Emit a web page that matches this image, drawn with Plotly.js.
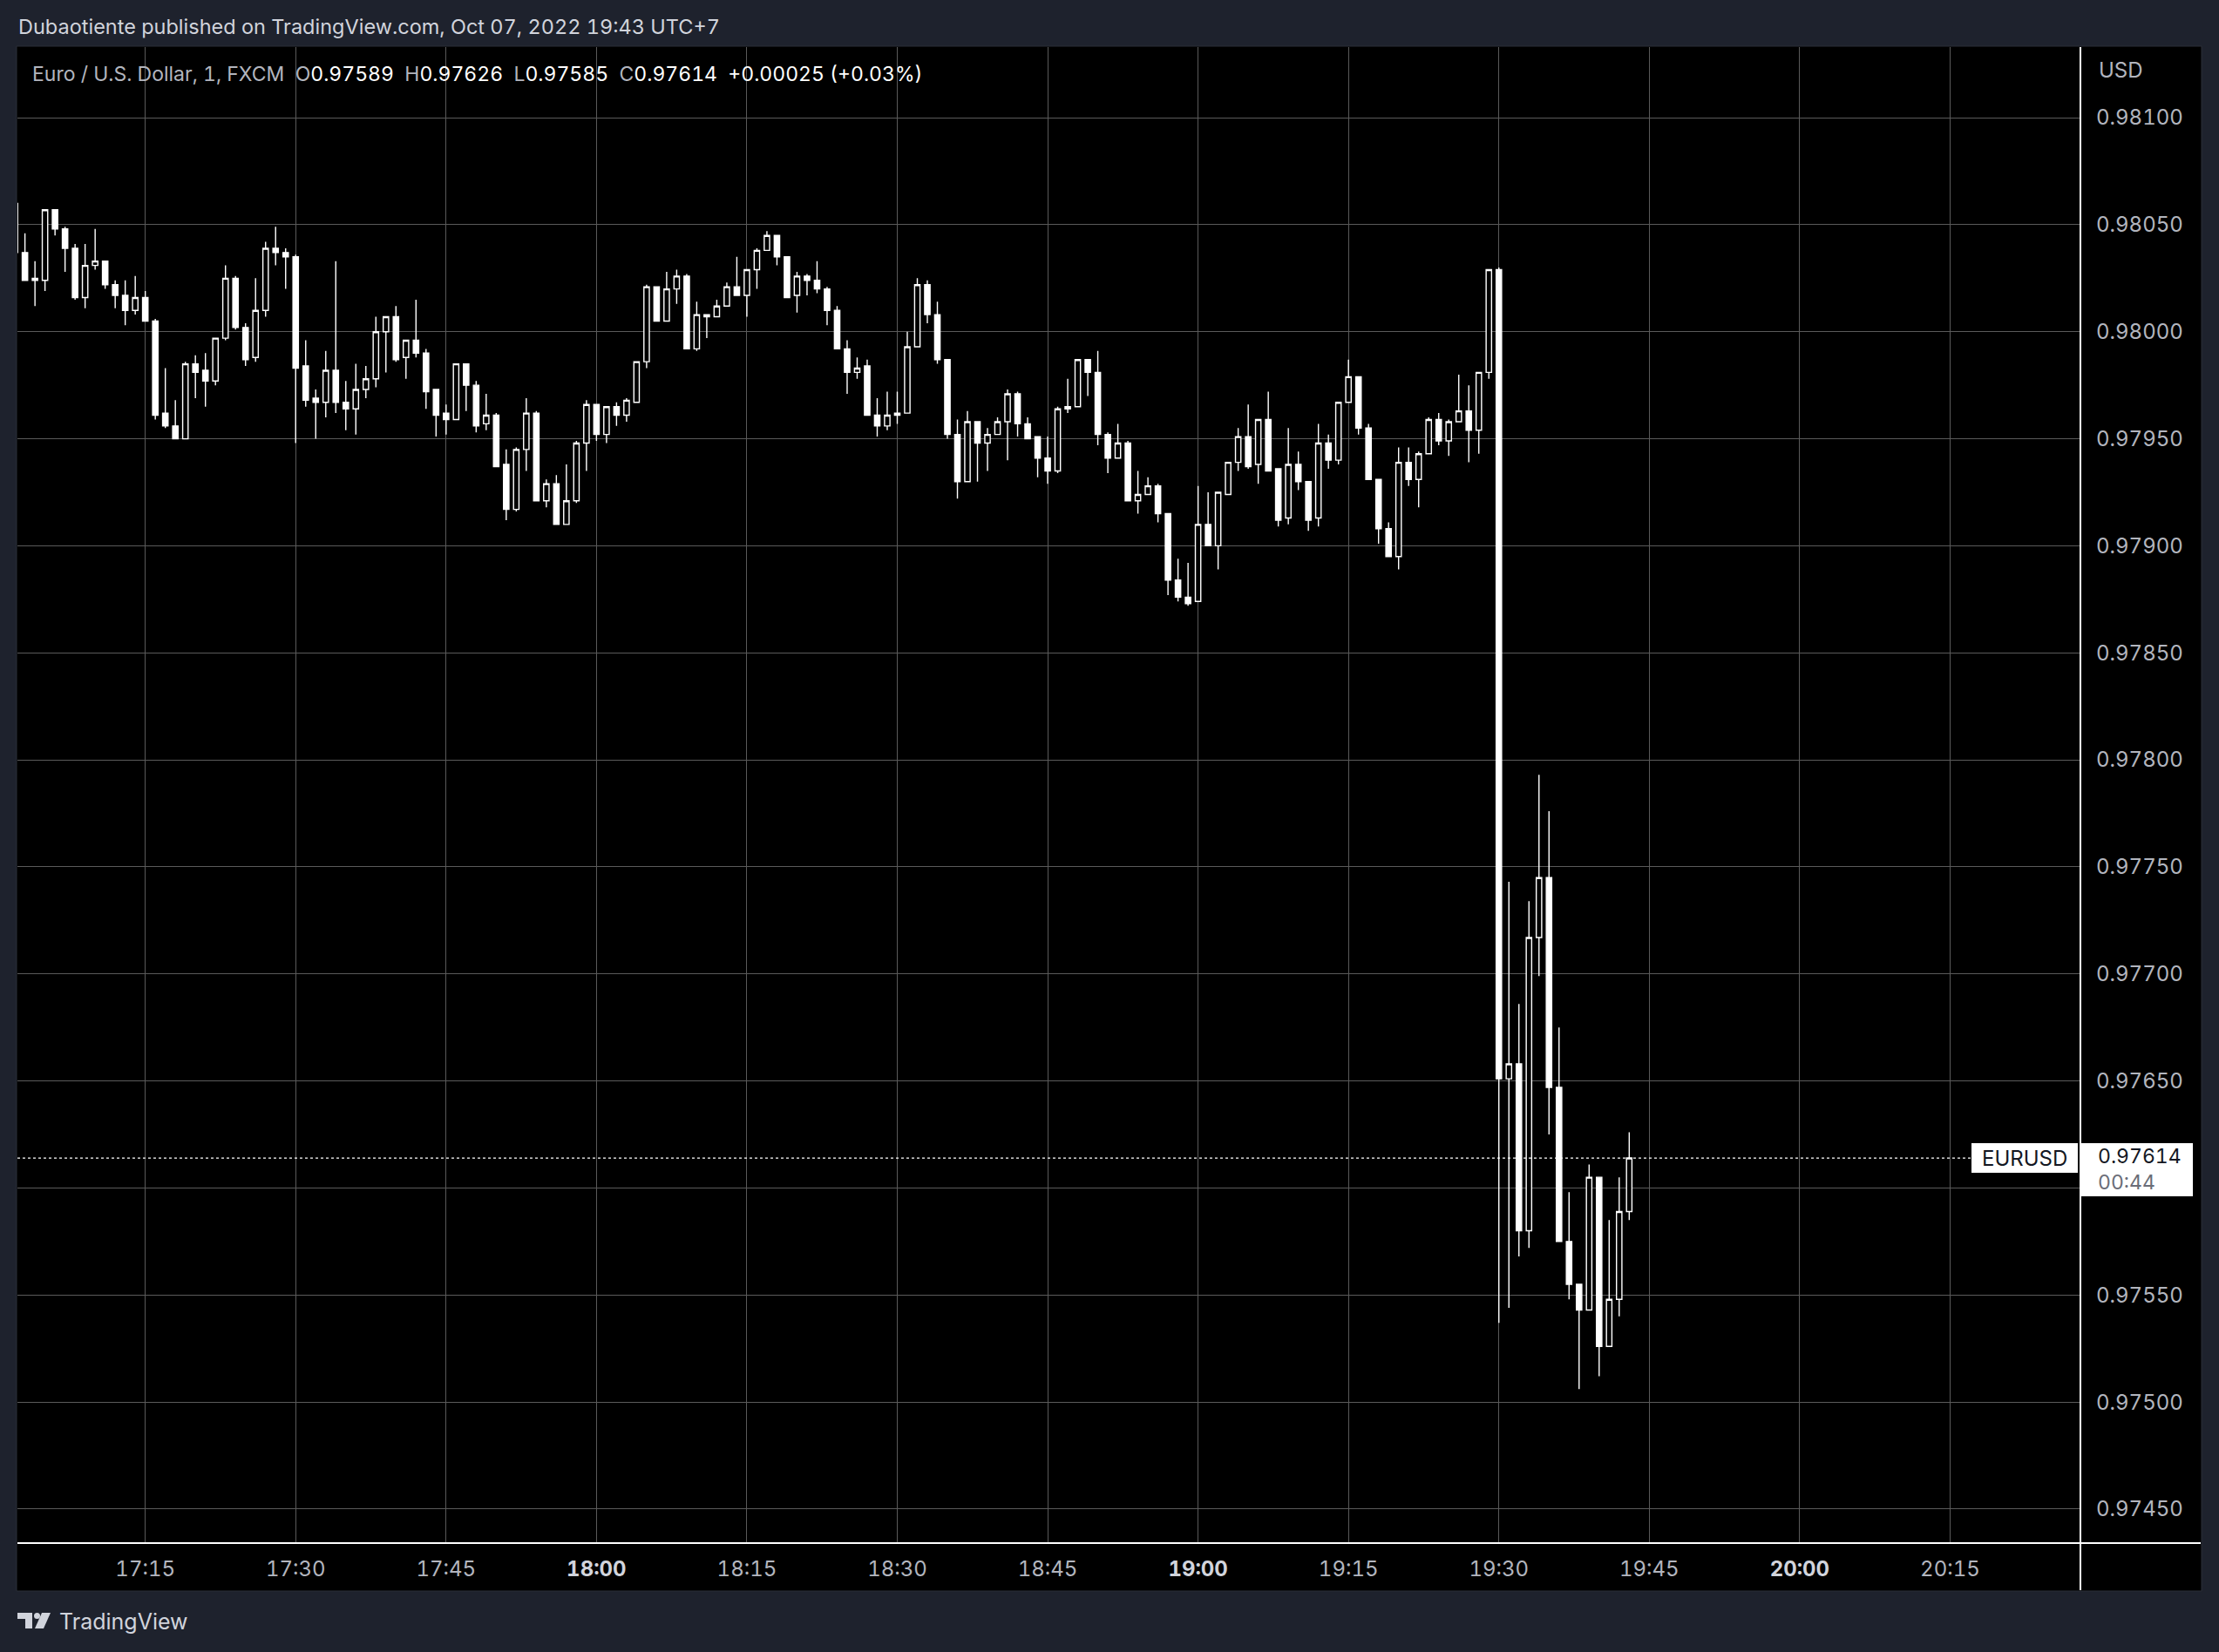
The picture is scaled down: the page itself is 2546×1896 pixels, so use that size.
<!DOCTYPE html>
<html><head><meta charset="utf-8">
<script src="https://cdn.plot.ly/plotly-3.0.1.min.js"></script>
<style>html,body{margin:0;padding:0;background:#1e222d;overflow:hidden}#chart{width:2546px;height:1896px}
text{font-feature-settings:"tnum" 1;}</style>
</head><body><div id="chart"></div>
<script>
const day = '2022-10-07';
const times = [
'17:02','17:03','17:04','17:05','17:06','17:07','17:08','17:09','17:10','17:11',
'17:12','17:13','17:14','17:15','17:16','17:17','17:18','17:19','17:20','17:21',
'17:22','17:23','17:24','17:25','17:26','17:27','17:28','17:29','17:30','17:31',
'17:32','17:33','17:34','17:35','17:36','17:37','17:38','17:39','17:40','17:41',
'17:42','17:43','17:44','17:45','17:46','17:47','17:48','17:49','17:50','17:51',
'17:52','17:53','17:54','17:55','17:56','17:57','17:58','17:59','18:00','18:01',
'18:02','18:03','18:04','18:05','18:06','18:07','18:08','18:09','18:10','18:11',
'18:12','18:13','18:14','18:15','18:16','18:17','18:18','18:19','18:20','18:21',
'18:22','18:23','18:24','18:25','18:26','18:27','18:28','18:29','18:30','18:31',
'18:32','18:33','18:34','18:35','18:36','18:37','18:38','18:39','18:40','18:41',
'18:42','18:43','18:44','18:45','18:46','18:47','18:48','18:49','18:50','18:51',
'18:52','18:53','18:54','18:55','18:56','18:57','18:58','18:59','19:00','19:01',
'19:02','19:03','19:04','19:05','19:06','19:07','19:08','19:09','19:10','19:11',
'19:12','19:13','19:14','19:15','19:16','19:17','19:18','19:19','19:20','19:21',
'19:22','19:23','19:24','19:25','19:26','19:27','19:28','19:29','19:30','19:31',
'19:32','19:33','19:34','19:35','19:36','19:37','19:38','19:39','19:40','19:41',
'19:42','19:43'];
const open = [
0.98037,0.98037,0.98024,0.98024,0.98057,0.98048,0.98039,0.98016,0.98031,0.98033,
0.98022,0.98017,0.98010,0.98016,0.98005,0.97962,0.97956,0.97950,0.97985,0.97982,
0.97977,0.97997,0.98025,0.98002,0.97988,0.98010,0.98039,0.98037,0.98035,0.97984,
0.97969,0.97967,0.97982,0.97967,0.97964,0.97973,0.97978,0.98000,0.98007,0.97988,
0.97996,0.97990,0.97973,0.97962,0.97959,0.97985,0.97975,0.97957,0.97961,0.97938,
0.97917,0.97945,0.97962,0.97921,0.97929,0.97910,0.97921,0.97948,0.97966,0.97952,
0.97965,0.97961,0.97967,0.97986,0.98021,0.98005,0.98020,0.98026,0.97992,0.98008,
0.98007,0.98012,0.98021,0.98017,0.98029,0.98038,0.98045,0.98035,0.98017,0.98026,
0.98024,0.98020,0.98010,0.97992,0.97981,0.97984,0.97961,0.97956,0.97961,0.97962,
0.97993,0.98022,0.98008,0.97987,0.97952,0.97930,0.97958,0.97948,0.97952,0.97958,
0.97971,0.97957,0.97951,0.97941,0.97935,0.97965,0.97965,0.97987,0.97981,0.97952,
0.97941,0.97948,0.97921,0.97924,0.97928,0.97915,0.97884,0.97876,0.97874,0.97910,
0.97900,0.97924,0.97939,0.97951,0.97938,0.97959,0.97936,0.97913,0.97938,0.97930,
0.97913,0.97948,0.97940,0.97967,0.97979,0.97955,0.97931,0.97908,0.97895,0.97939,
0.97931,0.97943,0.97959,0.97949,0.97958,0.97963,0.97954,0.97981,0.98029,0.97651,
0.97658,0.97580,0.97717,0.97745,0.97647,0.97575,0.97555,0.97543,0.97605,0.97526,
0.97548,0.97589];
const high = [
0.98064,0.98046,0.98033,0.98057,0.98057,0.98049,0.98041,0.98041,0.98048,0.98033,
0.98024,0.98024,0.98026,0.98019,0.98006,0.97983,0.97968,0.97986,0.97989,0.97990,
0.97997,0.98031,0.98026,0.98004,0.98025,0.98042,0.98049,0.98039,0.98036,0.97996,
0.97973,0.97991,0.98033,0.97977,0.97985,0.97984,0.98007,0.98007,0.98012,0.97996,
0.98015,0.97992,0.97973,0.97966,0.97985,0.97985,0.97977,0.97971,0.97962,0.97945,
0.97946,0.97969,0.97963,0.97931,0.97933,0.97938,0.97949,0.97968,0.97966,0.97965,
0.97967,0.97969,0.97986,0.98022,0.98021,0.98028,0.98029,0.98027,0.98014,0.98008,
0.98015,0.98023,0.98035,0.98029,0.98039,0.98047,0.98045,0.98035,0.98028,0.98027,
0.98033,0.98021,0.98012,0.97996,0.97988,0.97987,0.97969,0.97972,0.97972,0.98000,
0.98025,0.98024,0.98014,0.97987,0.97959,0.97963,0.97958,0.97955,0.97960,0.97973,
0.97972,0.97960,0.97951,0.97951,0.97965,0.97978,0.97987,0.97987,0.97991,0.97953,
0.97957,0.97949,0.97935,0.97932,0.97929,0.97915,0.97894,0.97892,0.97928,0.97925,
0.97925,0.97939,0.97955,0.97966,0.97959,0.97972,0.97936,0.97955,0.97944,0.97930,
0.97957,0.97952,0.97967,0.97987,0.97979,0.97957,0.97931,0.97911,0.97946,0.97946,
0.97944,0.97960,0.97962,0.97959,0.97980,0.97975,0.97981,0.98029,0.98030,0.97743,
0.97686,0.97734,0.97793,0.97776,0.97675,0.97598,0.97555,0.97611,0.97605,0.97585,
0.97605,0.97626];
const low = [
0.98035,0.98024,0.98012,0.98019,0.98045,0.98028,0.98015,0.98011,0.98029,0.98020,
0.98011,0.98003,0.98008,0.98005,0.97959,0.97955,0.97950,0.97950,0.97969,0.97965,
0.97975,0.97996,0.98001,0.97984,0.97986,0.98007,0.98031,0.98020,0.97948,0.97965,
0.97950,0.97960,0.97962,0.97954,0.97952,0.97969,0.97974,0.97981,0.97986,0.97978,
0.97988,0.97964,0.97951,0.97952,0.97959,0.97963,0.97953,0.97954,0.97937,0.97912,
0.97916,0.97935,0.97921,0.97918,0.97910,0.97910,0.97920,0.97935,0.97949,0.97948,
0.97956,0.97958,0.97967,0.97983,0.98005,0.98005,0.98013,0.97992,0.97991,0.97997,
0.98007,0.98012,0.98017,0.98007,0.98020,0.98038,0.98031,0.98016,0.98009,0.98017,
0.98018,0.98003,0.97992,0.97971,0.97978,0.97961,0.97951,0.97954,0.97957,0.97962,
0.97993,0.98004,0.97985,0.97950,0.97922,0.97930,0.97930,0.97935,0.97952,0.97940,
0.97951,0.97950,0.97932,0.97929,0.97934,0.97962,0.97965,0.97970,0.97947,0.97934,
0.97941,0.97921,0.97915,0.97924,0.97911,0.97877,0.97874,0.97872,0.97874,0.97900,
0.97889,0.97924,0.97935,0.97936,0.97929,0.97935,0.97909,0.97910,0.97926,0.97907,
0.97909,0.97936,0.97938,0.97967,0.97952,0.97931,0.97901,0.97895,0.97889,0.97928,
0.97918,0.97943,0.97947,0.97942,0.97958,0.97939,0.97943,0.97978,0.97537,0.97544,
0.97568,0.97572,0.97699,0.97625,0.97575,0.97548,0.97506,0.97543,0.97512,0.97526,
0.97540,0.97585];
const close = [
0.98060,0.98024,0.98025,0.98057,0.98048,0.98039,0.98016,0.98031,0.98033,0.98022,
0.98017,0.98010,0.98016,0.98005,0.97961,0.97956,0.97950,0.97985,0.97981,0.97977,
0.97997,0.98025,0.98002,0.97987,0.98010,0.98039,0.98037,0.98035,0.97983,0.97968,
0.97967,0.97982,0.97967,0.97964,0.97973,0.97978,0.98000,0.98007,0.97987,0.97996,
0.97990,0.97972,0.97961,0.97959,0.97985,0.97975,0.97956,0.97961,0.97937,0.97917,
0.97945,0.97962,0.97921,0.97929,0.97910,0.97921,0.97948,0.97966,0.97952,0.97965,
0.97961,0.97968,0.97986,0.98021,0.98005,0.98020,0.98026,0.97992,0.98008,0.98007,
0.98012,0.98021,0.98017,0.98029,0.98038,0.98045,0.98035,0.98016,0.98026,0.98024,
0.98020,0.98010,0.97992,0.97981,0.97983,0.97961,0.97956,0.97961,0.97962,0.97993,
0.98022,0.98008,0.97987,0.97952,0.97930,0.97958,0.97948,0.97952,0.97958,0.97971,
0.97957,0.97950,0.97941,0.97935,0.97964,0.97964,0.97987,0.97981,0.97952,0.97941,
0.97948,0.97921,0.97924,0.97928,0.97915,0.97884,0.97876,0.97873,0.97910,0.97900,
0.97925,0.97939,0.97951,0.97937,0.97959,0.97935,0.97912,0.97938,0.97930,0.97912,
0.97948,0.97940,0.97967,0.97979,0.97955,0.97931,0.97908,0.97895,0.97939,0.97931,
0.97943,0.97959,0.97949,0.97958,0.97963,0.97954,0.97981,0.98029,0.97651,0.97658,
0.97580,0.97717,0.97745,0.97647,0.97575,0.97555,0.97543,0.97605,0.97526,0.97548,
0.97589,0.97614];
const yTicks = [0.97450,0.97500,0.97550,0.97600,0.97650,0.97700,0.97750,0.97800,0.97850,0.97900,0.97950,0.98000,0.98050,0.98100];
const xTickTimes = ['17:15','17:30','17:45','18:00','18:15','18:30','18:45','19:00','19:15','19:30','19:45','20:00','20:15'];
const xTickBold = ['18:00','19:00','20:00'];
const headerText = 'Dubaotiente published on TradingView.com, Oct 07, 2022 19:43 UTC+7';
const symbolName = 'Euro / U.S. Dollar, 1, FXCM';
const ticker = 'EURUSD';
const currency = 'USD';
const countdown = '00:44';
const brand = 'TradingView';

// ---- layout geometry (pixels) ----
const W = 2546, H = 1896;
const L = 20, R = 2387, T = 54, B = 1771;
const YMIN = 0.974341, YMAX = 0.981330;
const px = x => (x - L) / (R - L);
const py = y => (B - y) / (B - T);
const yPix = v => T + (YMAX - v) / (YMAX - YMIN) * (B - T);
const FONT = 'Inter, Roboto, sans-serif';
const GRAY = '#b2b5be', LIGHT = '#d1d4dc';

const n = close.length;
const lastO = open[n-1], lastH = high[n-1], lastL = low[n-1], lastC = close[n-1];
const chg = lastC - close[n-2];
const pct = chg / close[n-2] * 100;
const sp = '\u00a0';
const lbl = s => '<span style="color:' + GRAY + '">' + s + '</span>';
const val = s => '<span style="color:#ffffff">' + s + '</span>';
const legendText = lbl(symbolName) + sp + sp +
  lbl('O') + val(lastO.toFixed(5)) + sp + sp + lbl('H') + val(lastH.toFixed(5)) + sp + sp +
  lbl('L') + val(lastL.toFixed(5)) + sp + sp + lbl('C') + val(lastC.toFixed(5)) + sp + sp +
  val((chg >= 0 ? '+' : '') + chg.toFixed(5) + ' (' + (pct >= 0 ? '+' : '') + pct.toFixed(2) + '%)');

// price label box (pixels) – axis labels that fall under it are covered in the original
const boxTop = yPix(lastC) - 17, boxBot = yPix(lastC) + 44;

const trace = {
  type: 'candlestick',
  x: times.map(t => day + ' ' + t),
  open: open, high: high, low: low, close: close,
  increasing: {line: {color: '#ffffff', width: 1.4}, fillcolor: '#000000'},
  decreasing: {line: {color: '#ffffff', width: 1.4}, fillcolor: '#ffffff'},
  whiskerwidth: 0,
  hoverinfo: 'skip',
  showlegend: false
};

function poly(pts) {
  return 'M' + pts.map(p => px(p[0]).toFixed(6) + ',' + py(p[1]).toFixed(6)).join(' L') + ' Z';
}

const shapes = [
  {type: 'rect', xref: 'paper', yref: 'paper', x0: px(19), x1: px(2526), y0: py(53), y1: py(1826),
   fillcolor: '#000000', line: {color: '#2a2e39', width: 1}, layer: 'below'},
  {type: 'line', xref: 'paper', yref: 'y', x0: 0, x1: px(2262), y0: lastC, y1: lastC,
   line: {color: '#ffffff', width: 1.3, dash: 'dot'}, layer: 'above'},
  {type: 'line', xref: 'paper', yref: 'paper', x0: px(2387), x1: px(2387), y0: py(54), y1: py(1825),
   line: {color: '#ffffff', width: 2}, layer: 'above'},
  {type: 'line', xref: 'paper', yref: 'paper', x0: px(20), x1: px(2525), y0: py(1771), y1: py(1771),
   line: {color: '#ffffff', width: 2}, layer: 'above'},
  {type: 'rect', xref: 'paper', yref: 'paper', x0: px(2262), x1: px(2384), y0: py(boxTop), y1: py(boxTop + 34),
   fillcolor: '#ffffff', line: {width: 0}, layer: 'above'},
  {type: 'rect', xref: 'paper', yref: 'paper', x0: px(2388), x1: px(2516), y0: py(boxTop), y1: py(boxBot),
   fillcolor: '#ffffff', line: {width: 0}, layer: 'above'},
  {type: 'path', xref: 'paper', yref: 'paper', layer: 'above', fillcolor: LIGHT, line: {width: 0},
   path: poly([[20,1851],[37,1851],[37,1869],[29,1869],[29,1858],[20,1858]])},
  {type: 'circle', xref: 'paper', yref: 'paper', layer: 'above', fillcolor: LIGHT, line: {width: 0},
   x0: px(39), x1: px(46), y0: py(1851), y1: py(1858)},
  {type: 'path', xref: 'paper', yref: 'paper', layer: 'above', fillcolor: LIGHT, line: {width: 0},
   path: poly([[48,1851],[58,1851],[50,1869],[40,1869]])}
];

const annotations = [
  {xref: 'paper', yref: 'paper', x: px(19), y: py(31), xanchor: 'left', yanchor: 'middle', showarrow: false,
   text: headerText, font: {family: FONT, size: 23.5, color: LIGHT}},
  {xref: 'paper', yref: 'paper', x: px(35), y: py(85), xanchor: 'left', yanchor: 'middle', showarrow: false,
   text: legendText, font: {family: FONT, size: 23, color: LIGHT}},
  {xref: 'paper', yref: 'paper', x: px(2406), y: py(81), xanchor: 'left', yanchor: 'middle', showarrow: false,
   text: currency, font: {family: FONT, size: 24, color: GRAY}},
  {xref: 'paper', yref: 'paper', x: px(2323), y: py(boxTop + 17), xanchor: 'center', yanchor: 'middle', showarrow: false,
   text: ticker, font: {family: FONT, size: 24, color: '#131722'}},
  {xref: 'paper', yref: 'paper', x: px(2405), y: py(boxTop + 15), xanchor: 'left', yanchor: 'middle', showarrow: false,
   text: lastC.toFixed(5), font: {family: FONT, size: 23, color: '#131722'}},
  {xref: 'paper', yref: 'paper', x: px(2405), y: py(boxTop + 45), xanchor: 'left', yanchor: 'middle', showarrow: false,
   text: countdown, font: {family: FONT, size: 23, color: '#6a6d78'}},
  {xref: 'paper', yref: 'paper', x: px(66), y: py(1861), xanchor: 'left', yanchor: 'middle', showarrow: false,
   text: brand, font: {family: FONT, size: 25, color: LIGHT}}
];

const layout = {
  width: W, height: H,
  margin: {l: L, r: W - R, t: T, b: H - B, pad: 0},
  paper_bgcolor: '#1e222d',
  plot_bgcolor: '#000000',
  boxgap: 0.46, boxgroupgap: 0,
  showlegend: false,
  xaxis: {
    type: 'date',
    range: [day + ' 17:02:15', day + ' 20:28:00'],
    rangeslider: {visible: false},
    tickmode: 'array',
    tickvals: xTickTimes.map(t => day + ' ' + t),
    ticktext: xTickTimes.map(t => xTickBold.includes(t) ? '<span style="color:' + LIGHT + '"><b>' + t + '</b></span>' : t),
    showgrid: true, gridcolor: '#5a5a5a', gridwidth: 1,
    zeroline: false, showline: false, ticks: '',
    ticklabelstandoff: 13,
    tickfont: {family: FONT, size: 24, color: GRAY},
    fixedrange: true
  },
  yaxis: {
    side: 'right',
    range: [YMIN, YMAX],
    tickmode: 'array',
    tickvals: yTicks,
    ticktext: yTicks.map(v => (yPix(v) > boxTop - 10 && yPix(v) < boxBot + 10) ? '' : v.toFixed(5)),
    showgrid: true, gridcolor: '#5a5a5a', gridwidth: 1,
    zeroline: false, showline: false, ticks: '',
    ticklabelstandoff: 17,
    tickfont: {family: FONT, size: 24, color: GRAY},
    fixedrange: true
  },
  shapes: shapes,
  annotations: annotations
};

Plotly.newPlot('chart', [trace], layout, {staticPlot: true, displayModeBar: false});
</script>
</body></html>
